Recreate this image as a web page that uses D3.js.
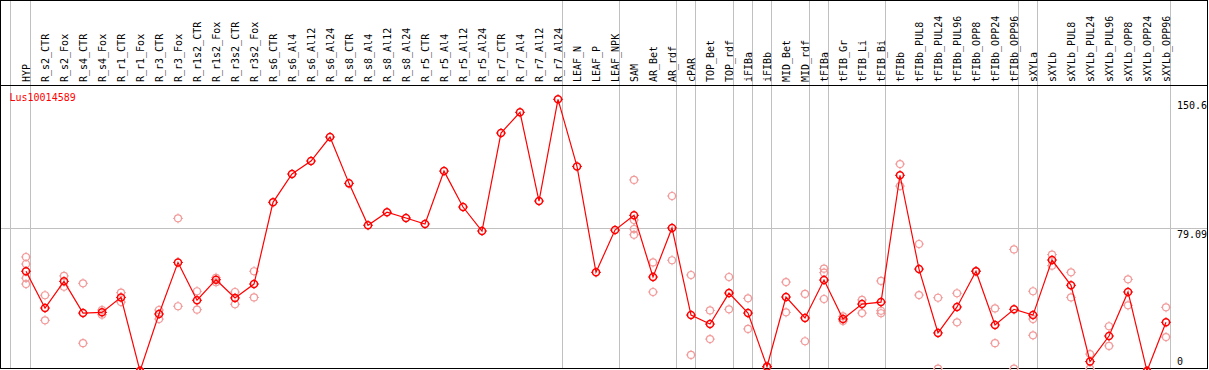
<!DOCTYPE html>
<html>
<head>
<meta charset="utf-8">
<script src="https://cdn.jsdelivr.net/npm/d3@7"></script>
<style>
  html, body { margin: 0; padding: 0; background: #fff; }
  svg { display: block; }
  text { font-family: "DejaVu Sans Mono", "Liberation Mono", monospace; font-size: 10px; }
</style>
</head>
<body>
<svg id="chart" width="1209" height="370"></svg>
<script>
const geneName = "Lus10014589";

const categories = [
  "HYP",
  "R_s2_CTR","R_s2_Fox","R_s4_CTR","R_s4_Fox","R_r1_CTR","R_r1_Fox","R_r3_CTR","R_r3_Fox",
  "R_r1s2_CTR","R_r1s2_Fox","R_r3s2_CTR","R_r3s2_Fox",
  "R_s6_CTR","R_s6_Al4","R_s6_Al12","R_s6_Al24","R_s8_CTR","R_s8_Al4","R_s8_Al12","R_s8_Al24",
  "R_r5_CTR","R_r5_Al4","R_r5_Al12","R_r5_Al24","R_r7_CTR","R_r7_Al4","R_r7_Al12","R_r7_Al24",
  "LEAF_N","LEAF_P","LEAF_NPK",
  "SAM","AR_Bet","AR_rdf",
  "cPAR",
  "TOP_Bet","TOP_rdf",
  "iFIBa",
  "iFIBb",
  "MID_Bet","MID_rdf",
  "tFIBa",
  "tFIB_Gr","tFIB_Li","tFIB_Bi",
  "tFIBb","tFIBb_PUL8","tFIBb_PUL24","tFIBb_PUL96","tFIBb_OPP8","tFIBb_OPP24","tFIBb_OPP96",
  "sXYLa",
  "sXYLb","sXYLb_PUL8","sXYLb_PUL24","sXYLb_PUL96","sXYLb_OPP8","sXYLb_OPP24","sXYLb_OPP96"
];

// sizes of the groups separated by grey vertical lines
const groupSizes = [1, 28, 3, 3, 1, 2, 1, 1, 2, 1, 3, 7, 1, 7];

// mean expression (red line)
const means = [
  55.3,
  34.9, 49.7, 32.1, 32.5, 40.8, 0, 31.6, 60.2,
  39.2, 50.6, 40.5, 48.2,
  93.5, 109.2, 116.4, 129.7, 104.0, 80.8, 88.0, 84.8,
  81.5, 110.8, 90.9, 77.6, 131.9, 143.4, 94.2, 150.6,
  113.4, 54.7, 78.1,
  86.3, 52.1, 79.3,
  31.0,
  26.0, 43.2,
  32.1,
  2.4,
  41.0, 29.4,
  50.4,
  28.8, 37.1, 38.2,
  108.5, 56.5, 21.1, 35.5, 55.3, 25.5, 34.2,
  31.0,
  61.5, 47.5, 5.2, 19.4, 43.8, 0, 27.0
];

// individual replicates (pale circles)
const replicates = [
  [63.2, 59.3, 51.5, 48.2],
  [42.0, 28.1], [52.7, 46.7], [48.6, 15.4], [33.8, 31.2], [43.4, 38.2], [0, 0], [33.8, 28.8], [84.6, 35.9],
  [44.2, 34.0], [51.7, 49.2], [43.8, 37.0], [55.3, 40.8],
  [], [], [], [], [], [], [], [],
  [], [], [], [], [], [], [], [],
  [], [], [],
  [105.9, 83.7, 78.7, 75.5], [60.2, 43.8], [97.0, 61.4],
  [53.2, 8.9],
  [33.6, 17.7], [52.1, 34.2],
  [40.3, 23.3],
  [2.4, 2.4],
  [49.3, 32.5], [42.7, 16.5],
  [56.7, 54.5, 39.9],
  [30.3, 27.7], [39.4, 32.1], [49.9, 33.4, 32.0],
  [114.7, 102.5], [70.4, 42.1], [40.6, 1.3], [43.1, 27.0], [55.3, 55.3], [34.7, 15.4], [67.4, 1.3],
  [44.2, 28.8, 19.8],
  [64.5, 58.4], [54.7, 40.8], [9.4, 1.3], [24.8, 13.9], [50.8, 36.4], [0, 0], [35.3, 18.8]
];

const yTicks = [0, 79.09, 150.6];

const W = 1209, H = 370;
const svg = d3.select("#chart");

const x = d3.scalePoint().domain(categories).range([26, 1166]);
const step = x.step();
const y = d3.scaleLinear().domain([0, 150.6]).range([371, 99.3]);

const plotTop = 85.5, plotBottom = 368.5, leftEdge = 0.5, rightEdge = 1207.5;

// grey group separators
const sepX = [x(categories[0]) - 15.5];
let idx = -1;
groupSizes.forEach(s => { idx += s; sepX.push(x(categories[idx]) + 4.5); });
svg.append("g").selectAll("line").data(sepX).join("line")
  .attr("x1", d => d).attr("x2", d => d)
  .attr("y1", 0).attr("y2", plotBottom)
  .attr("stroke", "#c0c0c0").attr("stroke-width", 1);

// grey horizontal reference at middle tick
const midY = Math.floor(y(yTicks[1])) + 0.5;
svg.append("line")
  .attr("x1", leftEdge).attr("x2", rightEdge)
  .attr("y1", midY).attr("y2", midY)
  .attr("stroke", "#c0c0c0").attr("stroke-width", 1);

// frame
svg.append("rect")
  .attr("x", leftEdge).attr("y", 0.5)
  .attr("width", rightEdge - leftEdge).attr("height", plotBottom - 0.5)
  .attr("fill", "none").attr("stroke", "#000").attr("stroke-width", 1);
svg.append("line")
  .attr("x1", leftEdge).attr("x2", rightEdge)
  .attr("y1", plotTop).attr("y2", plotTop)
  .attr("stroke", "#000").attr("stroke-width", 1);

// category labels
svg.append("g").selectAll("text").data(categories).join("text")
  .attr("transform", d => `translate(${x(d)},82) rotate(-90)`)
  .attr("text-anchor", "start")
  .attr("dy", "0.35em")
  .attr("fill", "#000")
  .text(d => d);

// y tick labels
svg.append("g").selectAll("text").data(yTicks).join("text")
  .attr("x", 1177)
  .attr("y", d => d === 0 ? y(d) - 6 : y(d) + 2)
  .attr("dominant-baseline", d => d === 0 ? "auto" : "hanging")
  .attr("fill", "#000")
  .text(d => d);

// gene name
svg.append("text")
  .attr("x", 9.5).attr("y", 101)
  .attr("fill", "#ff0000")
  .text(geneName);

// marker drawing: circle with small spikes
function marker(g, color, width) {
  g.append("circle").attr("r", 3.5).attr("fill", "none")
    .attr("stroke", color).attr("stroke-width", width);
  [[0, -1], [0, 1], [-1, 0], [1, 0]].forEach(([dx, dy]) => {
    g.append("line")
      .attr("x1", dx * 3.5).attr("y1", dy * 3.5)
      .attr("x2", dx * 5).attr("y2", dy * 5)
      .attr("stroke", color).attr("stroke-width", 1);
  });
}

const clip = svg.append("defs").append("clipPath").attr("id", "plotclip")
  .append("rect").attr("x", 0).attr("y", plotTop).attr("width", W).attr("height", H - plotTop);

const plot = svg.append("g").attr("clip-path", "url(#plotclip)");

// replicate points
const repData = [];
replicates.forEach((arr, i) => arr.forEach(v => repData.push({ c: categories[i], v })));
plot.append("g").selectAll("g").data(repData).join("g")
  .attr("transform", d => `translate(${x(d.c)},${y(d.v)})`)
  .each(function () { marker(d3.select(this), "#f29a9a", 1.2); });

// mean line
const meanData = categories.map((c, i) => ({ c, v: means[i] }));
plot.append("path").datum(meanData)
  .attr("fill", "none").attr("stroke", "#ff0000").attr("stroke-width", 1.2)
  .attr("d", d3.line().x(d => x(d.c)).y(d => y(d.v)));

plot.append("g").selectAll("g").data(meanData).join("g")
  .attr("transform", d => `translate(${x(d.c)},${y(d.v)})`)
  .each(function () { marker(d3.select(this), "#ff0000", 1.5); });
</script>
</body>
</html>
